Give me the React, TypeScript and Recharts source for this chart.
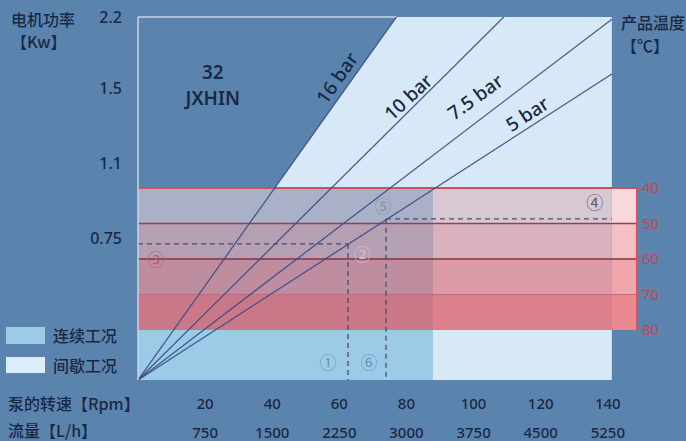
import React from 'react';
import {
  ComposedChart,
  Line,
  Area,
  XAxis,
  YAxis,
  ReferenceArea,
  ReferenceLine,
  ReferenceDot,
} from 'recharts';

// ---------- data ----------
const rpmTicks = [20, 40, 60, 80, 100, 120, 140];
const flowLabels = ['750', '1500', '2250', '3000', '3750', '4500', '5250'];
const powerTickLabels = ['0.75', '1.1', '1.5', '2.2'];
const powerTickPos = [39.1, 59.8, 80.4, 100];
const tempTicks = [40, 50, 60, 70, 80];
const tempBands = [
  [40, 50],
  [50, 60],
  [60, 70],
  [70, 80],
];

const barNames = ['16 bar', '10 bar', '7.5 bar', '5 bar'];
const bar16 = [
  { x: 0, y: 0 },
  { x: 77, y: 100 },
];
const bar10 = [
  { x: 0, y: 0 },
  { x: 109, y: 100 },
];
const bar75 = [
  { x: 0, y: 0 },
  { x: 141.2, y: 99.4 },
];
const bar5 = [
  { x: 0, y: 0 },
  { x: 141.2, y: 84.3 },
];
const barSeries = [bar16, bar10, bar75, bar5];

// intermittent (pale) region: below the 16 bar line up to the max speed
const intermittentRegion = [
  { x: 0, y: 0 },
  { x: 77, y: 100 },
  { x: 141.2, y: 100 },
];
const continuousMaxRpm = 87.9;
const maxRpm = 141.2;
const axisMaxRpm = 148.7;

// operating points (both on the 5 bar line)
const opPoints = [
  { x: 62.6, y: 37.5, toLeft: true },
  { x: 73.9, y: 44.4, toLeft: false },
];

const markers = [
  { t: '①', x: 56.6, y: 4.7, c: '#6f94b7' },
  { t: '⑥', x: 68.8, y: 4.7, c: '#6f94b7' },
  { t: '②', x: 66.8, y: 34.7, c: '#d8c0d0' },
  { t: '③', x: 5.4, y: 33.3, c: '#b65a6b' },
  { t: '⑤', x: 73.0, y: 47.7, c: '#8790ad' },
  { t: '④', x: 136.1, y: 48.8, c: '#555a6c' },
];

// ---------- styles ----------
const BG = '#5a84ae';
const PALE = '#d7e9f6';
const CONT = '#9ccbe7';
const RED = '#e0505a';
const TEXT = '#1a2844';
const TEMP_TEXT = '#c9444e';
const BORDER = '#c4d7e9';
const FONT = "'Noto Sans', 'Noto Sans CJK SC', sans-serif";
const CJK = "'Noto Sans CJK SC', 'Noto Sans', sans-serif";

const bandOpacity = [0.22, 0.36, 0.5, 0.68];
const bandLineColor = ['#c9525c', '#9a3d50', '#8c2e3e', '#c46a76'];
const bandLineWidth = [2, 1.5, 1.6, 1];
const barLabelPos = [
  { x: 59.3, y: 83.2, angle: -55 },
  { x: 80.5, y: 78.0, angle: -43 },
  { x: 100.5, y: 78.0, angle: -36 },
  { x: 116.0, y: 73.3, angle: -33 },
];

const XTick = (props: any) => {
  const { x, y, payload } = props;
  const i = rpmTicks.indexOf(payload.value);
  return (
    <g>
      <text x={x} y={y + 23} textAnchor="middle" dominantBaseline="central" fontSize={15} fill={TEXT} fontFamily={FONT} fontWeight={500}>
        {payload.value}
      </text>
      <text x={x} y={y + 52} textAnchor="middle" dominantBaseline="central" fontSize={15} fill={TEXT} fontFamily={FONT} fontWeight={500}>
        {flowLabels[i]}
      </text>
    </g>
  );
};

const abs = (left: number, top: number, extra: any = {}) => ({
  position: 'absolute' as const,
  left,
  top,
  ...extra,
});

const cjkText = { fontFamily: CJK, fontSize: 16, color: TEXT, whiteSpace: 'nowrap' as const, fontWeight: 500 };

export default function App() {
  return (
    <div
      style={{
        position: 'absolute',
        left: 0,
        top: 0,
        width: 686,
        height: 441,
        background: BG,
        overflow: 'hidden',
      }}
    >
      <ComposedChart width={686} height={441} margin={{ top: 17, right: 0, bottom: 0, left: 0 }}>
        <XAxis
          type="number"
          dataKey="x"
          domain={[0, axisMaxRpm]}
          ticks={rpmTicks}
          axisLine={false}
          tickLine={false}
          tickSize={0}
          tickMargin={0}
          height={61}
          tick={<XTick />}
          allowDataOverflow
        />
        <YAxis
          yAxisId="p"
          type="number"
          domain={[0, 100]}
          ticks={powerTickPos}
          tickFormatter={(v: number) => powerTickLabels[powerTickPos.indexOf(v)]}
          width={138}
          axisLine={{ stroke: BORDER, strokeWidth: 1.5 }}
          tickLine={false}
          tickSize={0}
          tickMargin={16}
          tick={{ fill: TEXT, fontSize: 16, fontFamily: FONT, fontWeight: 500 }}
          allowDataOverflow
        />
        <YAxis
          yAxisId="t"
          orientation="right"
          type="number"
          reversed
          domain={[-8.2, 94.1]}
          ticks={tempTicks}
          width={49}
          axisLine={false}
          tickLine={{ stroke: RED, strokeWidth: 1.5 }}
          tickSize={4}
          tickMargin={1}
          tick={{ fill: TEMP_TEXT, fontSize: 15, fontFamily: FONT, textAnchor: 'start' }}
          allowDataOverflow
        />

        <Area
          yAxisId="p"
          data={intermittentRegion}
          dataKey="y"
          type="linear"
          fill={PALE}
          fillOpacity={1}
          stroke="none"
          isAnimationActive={false}
          dot={false}
          activeDot={false}
        />
        <ReferenceArea
          yAxisId="t"
          x1={0}
          x2={continuousMaxRpm}
          y1={40}
          y2={94.1}
          fill={CONT}
          fillOpacity={1}
          stroke="none"
          ifOverflow="visible"
        />
        <ReferenceArea
          yAxisId="t"
          x1={maxRpm}
          x2={axisMaxRpm}
          y1={40}
          y2={80}
          fill="#ffffff"
          fillOpacity={1}
          stroke="none"
          ifOverflow="visible"
        />
        {tempBands.map((b, i) => (
          <ReferenceArea
            key={'band' + i}
            yAxisId="t"
            x1={0}
            x2={axisMaxRpm}
            y1={b[0]}
            y2={b[1]}
            fill={RED}
            fillOpacity={bandOpacity[i]}
            stroke="none"
            ifOverflow="visible"
          />
        ))}
        {tempTicks.slice(0, 4).map((t, i) => (
          <ReferenceLine
            key={'bl' + i}
            yAxisId="t"
            segment={[
              { x: 0, y: t },
              { x: axisMaxRpm, y: t },
            ]}
            stroke={bandLineColor[i]}
            strokeWidth={bandLineWidth[i]}
            ifOverflow="visible"
          />
        ))}
        <ReferenceLine
          yAxisId="t"
          segment={[
            { x: axisMaxRpm, y: 40 },
            { x: axisMaxRpm, y: 80 },
          ]}
          stroke={RED}
          strokeWidth={2}
          ifOverflow="visible"
        />
        <ReferenceLine
          yAxisId="p"
          segment={[
            { x: 0, y: 100 },
            { x: bar16[1].x, y: 100 },
          ]}
          stroke={BORDER}
          strokeWidth={1.5}
          ifOverflow="visible"
        />

        {barSeries.map((d, i) => (
          <Line
            key={barNames[i]}
            yAxisId="p"
            data={d}
            dataKey="y"
            type="linear"
            stroke="#3b4c86"
            strokeOpacity={0.9}
            strokeWidth={1.3}
            dot={false}
            activeDot={false}
            isAnimationActive={false}
          />
        ))}

        {opPoints.map((p, i) => (
          <ReferenceLine
            key={'oh' + i}
            yAxisId="p"
            segment={p.toLeft ? [{ x: 0, y: p.y }, { x: p.x, y: p.y }] : [{ x: p.x, y: p.y }, { x: maxRpm, y: p.y }]}
            stroke="#4a4c6c"
            strokeWidth={1.3}
            strokeDasharray="5 4"
            ifOverflow="visible"
          />
        ))}
        {opPoints.map((p, i) => (
          <ReferenceLine
            key={'ov' + i}
            yAxisId="p"
            segment={[
              { x: p.x, y: p.y },
              { x: p.x, y: 0 },
            ]}
            stroke="#4a4c6c"
            strokeWidth={1.3}
            strokeDasharray="5 4"
            ifOverflow="visible"
          />
        ))}

        {barLabelPos.map((p, i) => (
          <ReferenceDot
            key={'lbl' + i}
            yAxisId="p"
            x={p.x}
            y={p.y}
            r={0}
            ifOverflow="visible"
            shape={(sp: any) => (
              <text
                x={sp.cx}
                y={sp.cy}
                textAnchor="middle"
                dominantBaseline="central"
                fontSize={19}
                fontWeight={500}
                fill={TEXT}
                fontFamily={FONT}
                transform={`rotate(${p.angle} ${sp.cx} ${sp.cy})`}
              >
                {barNames[i]}
              </text>
            )}
          />
        ))}

        {markers.map((m, i) => (
          <ReferenceDot
            key={'mk' + i}
            yAxisId="p"
            x={m.x}
            y={m.y}
            r={0}
            ifOverflow="visible"
            shape={(sp: any) => (
              <text
                x={sp.cx}
                y={sp.cy}
                textAnchor="middle"
                dominantBaseline="central"
                fontSize={17}
                fill={m.c}
                fontFamily={FONT}
              >
                {m.t}
              </text>
            )}
          />
        ))}

        <ReferenceDot
          yAxisId="p"
          x={22.3}
          y={81.2}
          r={0}
          ifOverflow="visible"
          shape={(sp: any) => (
            <text textAnchor="middle" fontSize={19} fill={TEXT} fontFamily={FONT} fontWeight={600}>
              <tspan x={sp.cx} y={sp.cy - 6}>32</tspan>
              <tspan x={sp.cx} y={sp.cy + 20}>JXHIN</tspan>
            </text>
          )}
        />
      </ComposedChart>

      {/* axis titles */}
      <div style={abs(11, 8, { ...cjkText, lineHeight: '22px' })}>
        电机功率
        <br />【Kw】
      </div>
      <div style={abs(621, 11, { ...cjkText, lineHeight: '23px' })}>
        产品温度
        <br />【℃】
      </div>
      <div style={abs(8, 393, { ...cjkText, lineHeight: '20px' })}>泵的转速【Rpm】</div>
      <div style={abs(8, 421, { ...cjkText, lineHeight: '19px' })}>流量【L/h】</div>

      {/* legend */}
      <div style={abs(6, 327, { width: 39, height: 17, background: CONT })} />
      <div style={abs(53, 324, { ...cjkText, lineHeight: '23px' })}>连续工况</div>
      <div style={abs(6, 357, { width: 39, height: 16, background: '#dcedf9' })} />
      <div style={abs(53, 354, { ...cjkText, lineHeight: '23px' })}>间歇工况</div>
    </div>
  );
}
